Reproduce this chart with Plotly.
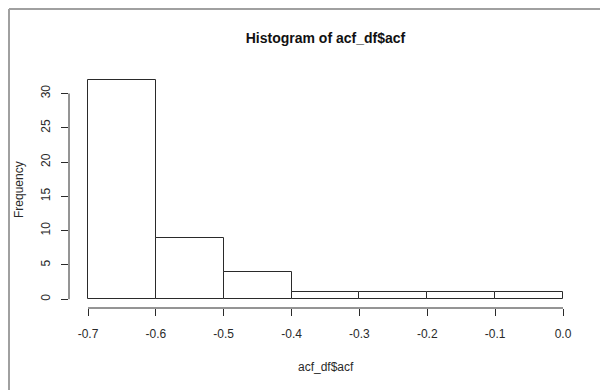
import plotly.graph_objects as go

bin_left = [-0.7, -0.6, -0.5, -0.4, -0.3, -0.2, -0.1]
bin_width = 0.1
counts = [32, 9, 4, 1, 1, 1, 1]
x_ticks = [-0.7, -0.6, -0.5, -0.4, -0.3, -0.2, -0.1, 0.0]
x_tick_labels = ["-0.7", "-0.6", "-0.5", "-0.4", "-0.3", "-0.2", "-0.1", "0.0"]
y_ticks = [0, 5, 10, 15, 20, 25, 30]
y_tick_labels = ["0", "5", "10", "15", "20", "25", "30"]

centers = [b + bin_width / 2 for b in bin_left]
ink = "#2a2a2a"
font = "Liberation Sans, Arial, sans-serif"

fig = go.Figure()
fig.add_trace(go.Bar(
    x=centers, y=counts, width=bin_width,
    marker=dict(color="white", line=dict(color=ink, width=1)),
    hoverinfo="x+y",
))

# page body has an 8px margin, so the figure is offset by (8, 8)
W, H = 600, 382
L, R, T, B = 61, 26, 63, 82
pw, ph = W - L - R, H - T - B

fig.update_layout(
    width=W, height=H,
    margin=dict(l=L, r=R, t=T, b=B),
    paper_bgcolor="white", plot_bgcolor="white",
    showlegend=False,
    font=dict(family=font, size=12, color=ink),
    title=dict(text="<b>Histogram of acf_df$acf</b>", x=0.5, xref="paper",
               y=1 - 30 / H, yref="container", yanchor="middle", xanchor="center",
               font=dict(family=font, size=14, color="#111")),
    xaxis=dict(range=[-0.728, 0.028], tickvals=x_ticks, ticktext=x_tick_labels,
               showgrid=False, zeroline=False, showline=False,
               ticks="outside", ticklen=7, tickcolor=ink, tickwidth=1,
               ticklabelstandoff=8, tickfont=dict(size=12, color=ink)),
    yaxis=dict(range=[-1.28, 33.28], tickvals=y_ticks, ticktext=y_tick_labels,
               showgrid=False, zeroline=False, showline=False,
               ticks="outside", ticklen=7, tickcolor=ink, tickwidth=1,
               tickangle=-90, ticklabelstandoff=6, tickfont=dict(size=12, color=ink)),
    bargap=0,
)

# R-style axis lines spanning only the tick range
fig.add_shape(type="line", xref="x", yref="paper", x0=x_ticks[0], x1=x_ticks[-1], y0=0, y1=0,
              line=dict(color=ink, width=1))
fig.add_shape(type="line", xref="paper", yref="y", x0=0, x1=0, y0=y_ticks[0], y1=y_ticks[-1],
              line=dict(color=ink, width=1))

# Frame of the screenshot (left and top gray border)
fx = (1 - L) / pw
fy = 1 + (T - 1) / ph
fig.add_shape(type="line", xref="paper", yref="paper", x0=fx, x1=fx, y0=fy, y1=-(B + 5) / ph,
              line=dict(color="#a0a0a0", width=2))
fig.add_shape(type="line", xref="paper", yref="paper", x0=fx, x1=1 + (R + 5) / pw, y0=fy, y1=fy,
              line=dict(color="#a0a0a0", width=2))

fig.add_annotation(text="acf_df$acf", xref="paper", yref="paper", x=0.5, y=-(359 - (T + ph)) / ph,
                   showarrow=False, xanchor="center", yanchor="middle",
                   font=dict(family=font, size=12, color=ink))
fig.add_annotation(text="Frequency", xref="paper", yref="paper", x=(11 - L) / pw, y=((T + ph) - 182) / ph,
                   showarrow=False, xanchor="center", yanchor="middle", textangle=-90,
                   font=dict(family=font, size=12, color=ink))

fig.write_html("out.html")
